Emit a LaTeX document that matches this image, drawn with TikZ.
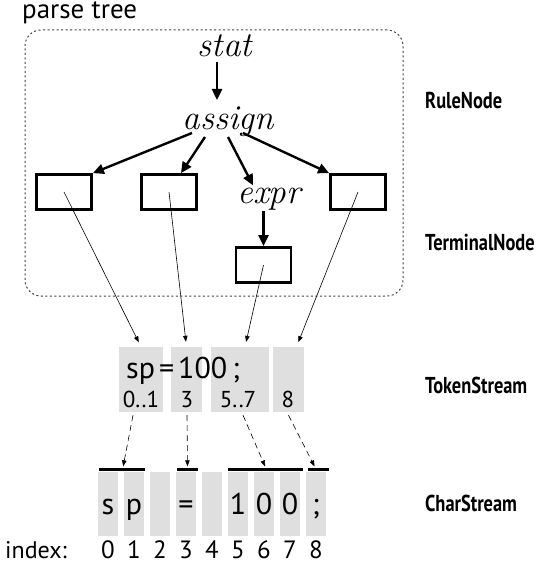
\documentclass[tikz,border=0pt]{standalone}
\usepackage{fontspec}
\newfontfamily\labelfont{PT Sans}
\newfontfamily\condfont[FakeStretch=0.8]{PT Sans}
\usetikzlibrary{arrows.meta,calc,positioning}

\begin{document}
\begin{tikzpicture}[x=1pt,y=-1pt,
rule/.style={font=\fontsize{35}{35}\selectfont\itshape, inner sep=0pt, anchor=base},
tbox/.style={draw, line width=2.8pt, minimum width=55pt, minimum height=35pt, inner sep=0pt},
tok/.style={fill=gray!25, minimum height=65pt, inner sep=0pt},
chr/.style={fill=gray!25, minimum width=20pt, minimum height=64pt, inner sep=0pt},
bar/.style={fill=black, minimum height=3pt, inner sep=0pt},
side/.style={font=\condfont\bfseries\fontsize{23}{23}\selectfont, anchor=base west, inner sep=0pt},
txt/.style={font=\labelfont\fontsize{#1}{#1}\selectfont, inner sep=0pt, anchor=base},
tarrow/.style={-{Triangle[length=11pt,width=10pt]}, line width=2.4pt},
thin/.style={-{Triangle[length=6pt,width=4.5pt]}, line width=0.6pt, shorten >=5pt}]
\useasboundingbox (0,0) rectangle (547,564);
% parse tree
\node (ptree) at (214,163) [draw, black!75, dash pattern=on 2pt off 2.5pt, line width=1pt, rounded corners=16pt, minimum width=378pt, minimum height=266pt] {};
\node (title) at (22,19) [txt=27, anchor=base west] {parse tree};
\node (stat) at (225,57) [rule] {stat};
\node (assign) at (228,130) [rule] {assign};
\node (expr) at (269,203) [rule] {expr};
\node (t1) at (64,192) [tbox] {};
\node (t2) at (169,192) [tbox] {};
\node (t3) at (263.5,265) [tbox] {};
\node (t4) at (358,192) [tbox] {};
\draw [tarrow] ($(stat.base)+(-8,5)$) -- ($(assign.base)+(-11,-30)$);
\draw [tarrow] ($(assign.base)+(-36,3)$) -- (t1.north east);
\draw [tarrow] ($(assign.base)+(-23,7)$) -- ($(t2.north)+(12,0)$);
\draw [tarrow] ($(assign.base)+(0,7)$) -- ($(expr.north)+(-16,-2)$);
\draw [tarrow] ($(assign.base)+(15,3)$) -- (t4.north west);
\draw [tarrow] ($(expr.base)+(-5.5,8)$) -- (t3.north);
% token stream
\node (tokA) at (141,379.5) [tok, minimum width=44pt] {};
\node (tokB) at (186.5,379.5) [tok, minimum width=31pt] {};
\node (tokC) at (240,379.5) [tok, minimum width=58pt] {};
\node (tokD) at (288.5,379.5) [tok, minimum width=31pt] {};
\node (toktext) at (126,378) [txt=30, anchor=base west] {sp\kern4pt=\kern4pt100\kern5pt;};
\node (numA) at (141,407) [txt=23] {0..1};
\node (numB) at (187,407) [txt=23] {3};
\node (numC) at (238,407) [txt=23] {5..7};
\node (numD) at (288,407) [txt=23] {8};
% char stream
\foreach \c [count=\i from 0] in {s,p,,=,,1,0,0,;} {
  \node (c\i) at ({108+26*\i},504) [chr] {};
  \node (ch\i) at ({108+26*\i},514) [txt=30] {\c};
  \node (ix\i) at ({108+26*\i},558) [txt=25] {\i};
}
\node (index) at (5,558) [txt=24, anchor=base west] {index:};
\node (bar1) at (122,469) [bar, minimum width=46pt] {};
\node (bar2) at (187.5,469) [bar, minimum width=21pt] {};
\node (bar3) at (265.5,469) [bar, minimum width=75pt] {};
\node (bar4) at (318.5,469) [bar, minimum width=21pt] {};
% labels
\node (rulelab) at (425,109) [side] {RuleNode};
\node (termlab) at (425,250) [side] {TerminalNode};
\node (toklab) at (425,393) [side] {TokenStream};
\node (charlab) at (425,511) [side] {CharStream};
% links
\draw [thin] (t1.center) -- (tokA.north);
\draw [thin] (t2.center) -- (tokB.north);
\draw [thin] (t3.center) -- ($(tokC.north)+(5,0)$);
\draw [thin] (t4.center) -- ($(tokD.north)+(8,0)$);
\begin{scope}[thin, shorten >=1pt, dash pattern=on 6pt off 4pt]
\draw ($(tokA.south)+(-8,3)$) -- ($(bar1.north)+(1,0)$);
\draw ($(tokB.south)+(0.5,3)$) -- (bar2.north);
\draw ($(tokC.south)+(3,3)$) -- (bar3.north);
\draw ($(tokD.south)+(0,3)$) -- ($(bar4.north)+(-3.5,0)$);
\end{scope}
\end{tikzpicture}
\end{document}
